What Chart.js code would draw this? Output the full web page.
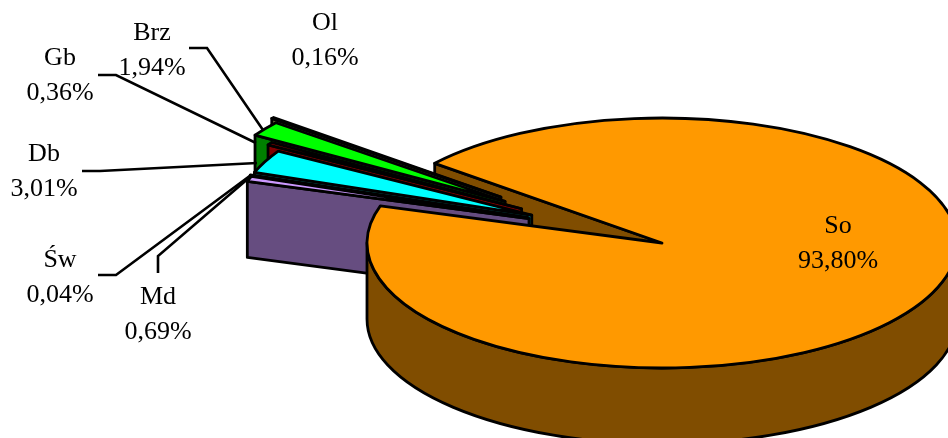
<!DOCTYPE html>
<html>
<head>
<meta charset="utf-8">
<style>
  html, body { margin: 0; padding: 0; background: #fff; }
  canvas { display: block; }
</style>
<script src="https://cdn.jsdelivr.net/npm/chart.js@4"></script>
</head>
<body>
<canvas id="pie3d" width="948" height="438"></canvas>
<script>
(function () {
  const labels = ['So', 'Md', 'Św', 'Db', 'Gb', 'Brz', 'Ol'];
  const values = [93.80, 0.69, 0.04, 3.01, 0.36, 1.94, 0.16];

  const topColors = ['#FF9900', '#CC99FF', '#008080', '#00FFFF', '#C00000', '#00FF00', '#CCCC99'];
  const sideColors = ['#804D00', '#664D80', '#004040', '#008080', '#800000', '#008000', '#666633'];
  const explode = [0, 145, 147, 146, 162, 185, 194];

  const SQUASH = 125 / 295;
  const DEPTH = 76;
  const FONT = '26px "Liberation Serif"';

  // label centre lines and leader lines, same order as labels
  const labelSpots = [
    { x: 838, y: 226, leader: null },
    { x: 158, y: 297, leader: [[158, 273], [158, 256], [250, 177]] },
    { x: 60, y: 260, leader: [[98, 275], [116, 275], [251, 175]] },
    { x: 44, y: 154, leader: [[82, 171], [100, 171], [257, 163]] },
    { x: 60, y: 58, leader: [[98, 75], [116, 75], [256, 143]] },
    { x: 152, y: 33, leader: [[189, 48], [207, 48], [263, 130]] },
    { x: 325, y: 23, leader: null }
  ];

  function facePath(ctx, p) {
    const ry = p.r * SQUASH;
    ctx.beginPath();
    ctx.moveTo(p.x, p.y);
    ctx.ellipse(p.x, p.y, p.r, ry, 0, p.start, p.end);
    ctx.closePath();
  }

  function paint(ctx, fill) {
    ctx.fillStyle = fill;
    ctx.fill();
    ctx.stroke();
  }

  function drawWall(ctx, p, fill) {
    const ex = p.x + p.r * Math.cos(p.start);
    const ey = p.y + p.r * SQUASH * Math.sin(p.start);
    ctx.beginPath();
    ctx.moveTo(ex, ey);
    ctx.lineTo(p.x, p.y);
    ctx.lineTo(p.x, p.y + DEPTH);
    ctx.lineTo(ex, ey + DEPTH);
    ctx.closePath();
    paint(ctx, fill);
  }

  function drawRim(ctx, p, fill) {
    const ry = p.r * SQUASH;
    for (let k = 0; k < 2; k++) {
      const a0 = Math.max(p.start, k * 2 * Math.PI);
      const a1 = Math.min(p.end, k * 2 * Math.PI + Math.PI);
      if (a1 <= a0) continue;
      ctx.beginPath();
      ctx.ellipse(p.x, p.y, p.r, ry, 0, a0, a1);
      ctx.ellipse(p.x, p.y + DEPTH, p.r, ry, 0, a1, a0, true);
      ctx.closePath();
      paint(ctx, fill);
    }
  }

  const pie3d = {
    id: 'pie3d',
    beforeDatasetsDraw(chart) {
      const ctx = chart.ctx;
      const arcs = chart.getDatasetMeta(0).data;
      const main = arcs[0];
      const gapMid = (main.startAngle + main.endAngle) / 2 + Math.PI;

      // small slices leave the pie roughly together, half way to their own bisector
      const parts = arcs.map(function (arc, i) {
        const mid = (arc.startAngle + arc.endAngle) / 2;
        const dir = gapMid + (mid - gapMid) * 0.5;
        return {
          x: arc.x + explode[i] * Math.cos(dir),
          y: arc.y + explode[i] * SQUASH * Math.sin(dir),
          r: arc.outerRadius,
          start: arc.startAngle,
          end: arc.endAngle
        };
      });

      ctx.save();
      ctx.strokeStyle = '#000';
      ctx.lineWidth = 2.8;
      ctx.lineJoin = 'round';

      drawWall(ctx, parts[0], sideColors[0]);
      for (let i = parts.length - 1; i > 0; i--) {
        drawWall(ctx, parts[i], sideColors[i]);
        facePath(ctx, parts[i]);
        paint(ctx, topColors[i]);
      }
      drawRim(ctx, parts[0], sideColors[0]);
      facePath(ctx, parts[0]);
      paint(ctx, topColors[0]);

      ctx.restore();
      return false;
    },
    afterDraw(chart) {
      const ctx = chart.ctx;
      ctx.save();
      ctx.strokeStyle = '#000';
      ctx.lineWidth = 2.6;
      labelSpots.forEach(function (spot) {
        if (!spot.leader) return;
        ctx.beginPath();
        spot.leader.forEach(function (pt, n) {
          if (n === 0) ctx.moveTo(pt[0], pt[1]);
          else ctx.lineTo(pt[0], pt[1]);
        });
        ctx.stroke();
      });
      ctx.fillStyle = '#000';
      ctx.font = FONT;
      ctx.textAlign = 'center';
      ctx.textBaseline = 'middle';
      labelSpots.forEach(function (spot, i) {
        ctx.fillText(labels[i], spot.x, spot.y);
        ctx.fillText(values[i].toFixed(2).replace('.', ',') + '%', spot.x, spot.y + 35.5);
      });
      ctx.restore();
    }
  };

  new Chart(document.getElementById('pie3d'), {
    type: 'pie',
    data: {
      labels: labels,
      datasets: [{
        data: values,
        backgroundColor: topColors,
        borderColor: '#000',
        borderWidth: 0
      }]
    },
    options: {
      responsive: false,
      animation: false,
      rotation: 309.6,
      radius: 295,
      layout: { padding: { left: 376, top: 48 } },
      plugins: {
        legend: { display: false },
        tooltip: { enabled: false }
      }
    },
    plugins: [pie3d]
  });
})();
</script>
</body>
</html>
